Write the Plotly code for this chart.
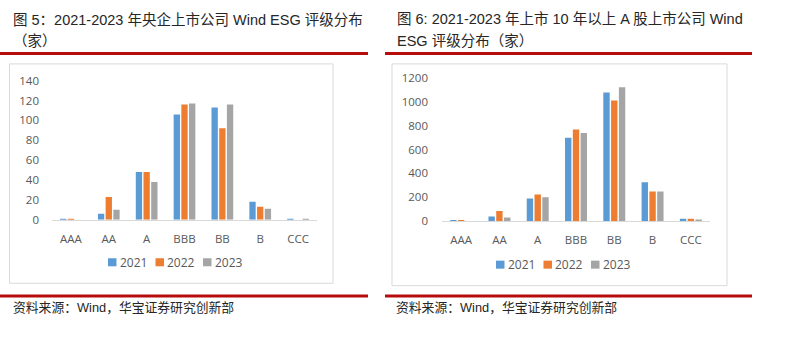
import plotly.graph_objects as go

W, H = 789, 340

categories = ["AAA", "AA", "A", "BBB", "BB", "B", "CCC"]
years = ["2021", "2022", "2023"]
colors = ["#5B9BD5", "#ED7D31", "#A5A5A5"]

# 央企上市公司 Wind ESG 评级分布（家）
soe_2021 = [1, 6, 48, 106, 113, 18, 1]
soe_2022 = [1, 23, 48, 116, 92, 13, 0]
soe_2023 = [0, 10, 38, 117, 116, 11, 1]

# 上市 10 年以上 A 股上市公司 Wind ESG 评级分布（家）
old_2021 = [1, 40, 190, 700, 1079, 326, 21]
old_2022 = [4, 85, 224, 769, 1012, 248, 20]
old_2023 = [0, 30, 200, 740, 1124, 248, 14]

left_ticks = [0, 20, 40, 60, 80, 100, 120, 140]
right_ticks = [0, 200, 400, 600, 800, 1000, 1200]

title_left = ["图 5：2021-2023 年央企上市公司 Wind ESG 评级分布", "（家）"]
title_right = ["图 6: 2021-2023 年上市 10 年以上 A 股上市公司 Wind", "ESG 评级分布（家）"]
source_text = "资料来源：Wind，华宝证券研究创新部"

TEXT_FONT = "Liberation Sans, Arial, Noto Sans CJK SC, sans-serif"
AXIS_FONT = "Open Sans, Noto Sans, sans-serif"
AXIS_COLOR = "#595959"
RED = "#B80C0C"
BOX = "#D9D9D9"


def px(x):
    return x / W


def py(y):
    return 1 - y / H


fig = go.Figure()

for series, name, c in zip([soe_2021, soe_2022, soe_2023], years, colors):
    fig.add_trace(go.Bar(x=categories, y=series, name=name, marker_color=c,
                         marker_line_width=0, xaxis="x", yaxis="y", showlegend=False))
for series, name, c in zip([old_2021, old_2022, old_2023], years, colors):
    fig.add_trace(go.Bar(x=categories, y=series, name=name, marker_color=c,
                         marker_line_width=0, xaxis="x2", yaxis="y2", showlegend=False))

xcommon = dict(showgrid=False, zeroline=False, showline=True, linecolor=BOX, linewidth=1,
               ticks="", tickfont=dict(family=AXIS_FONT, size=11.5, color=AXIS_COLOR),
               fixedrange=True, ticklabelstandoff=8)
ycommon = dict(showgrid=False, zeroline=False, showline=False, ticks="",
               tickfont=dict(family=AXIS_FONT, size=11.5, color=AXIS_COLOR), fixedrange=True)

fig.update_layout(
    width=W, height=H,
    margin=dict(l=0, r=0, t=0, b=0),
    paper_bgcolor="white", plot_bgcolor="white",
    barmode="group", bargap=0.39, bargroupgap=0.18,
    xaxis=dict(domain=[px(52), px(317)], anchor="y", **xcommon),
    yaxis=dict(domain=[py(221.5), py(76)], anchor="x", range=[0, 140],
               tickvals=left_ticks, ticklabelstandoff=12, **ycommon),
    xaxis2=dict(domain=[px(442), px(710)], anchor="y2", **xcommon),
    yaxis2=dict(domain=[py(223), py(73.3)], anchor="x2", range=[0, 1200],
                tickvals=right_ticks, ticklabelstandoff=13, **ycommon),
)

shapes = []
annotations = []

# chart frames
shapes.append(dict(type="rect", xref="paper", yref="paper", x0=px(9.5), x1=px(333), y0=py(288),
                   y1=py(58.5), line=dict(color=BOX, width=1), fillcolor="rgba(0,0,0,0)", layer="below"))
shapes.append(dict(type="rect", xref="paper", yref="paper", x0=px(392), x1=px(727), y0=py(290.5),
                   y1=py(58.5), line=dict(color=BOX, width=1), fillcolor="rgba(0,0,0,0)", layer="below"))

# red rules above and below each panel
for x0, x1 in [(0, 368), (385, 752)]:
    for yy in (47.5, 301.3):
        shapes.append(dict(type="line", xref="paper", yref="paper", x0=px(x0), x1=px(x1),
                           y0=py(yy), y1=py(yy), line=dict(color=RED, width=3)))

# titles
for lines, x0 in [(title_left, 11), (title_right, 395)]:
    for i, line in enumerate(lines):
        annotations.append(dict(text=line, xref="paper", yref="paper", x=px(x0), y=py(12 + 23 * i),
                                xanchor="left", yanchor="middle", showarrow=False,
                                font=dict(family=TEXT_FONT, size=14.5, color="#262626")))

# source lines
for x0 in (11, 394):
    annotations.append(dict(text=source_text, xref="paper", yref="paper", x=px(x0), y=py(313),
                            xanchor="left", yanchor="middle", showarrow=False,
                            font=dict(family=TEXT_FONT, size=12.8, color="#262626")))

# legends
for start, ly in [(108, 266), (496, 268.5)]:
    step = 47.5
    for i, (name, c) in enumerate(zip(years, colors)):
        sx = start + i * step
        shapes.append(dict(type="rect", xref="paper", yref="paper", x0=px(sx), x1=px(sx + 8.5),
                           y0=py(ly + 4.2), y1=py(ly - 4.2), line=dict(width=0), fillcolor=c))
        annotations.append(dict(text=name, xref="paper", yref="paper", x=px(sx + 9.5), y=py(ly),
                                xanchor="left", yanchor="middle", showarrow=False,
                                font=dict(family=AXIS_FONT, size=12, color=AXIS_COLOR)))

fig.update_layout(shapes=shapes, annotations=annotations)

fig.write_html("out.html")
